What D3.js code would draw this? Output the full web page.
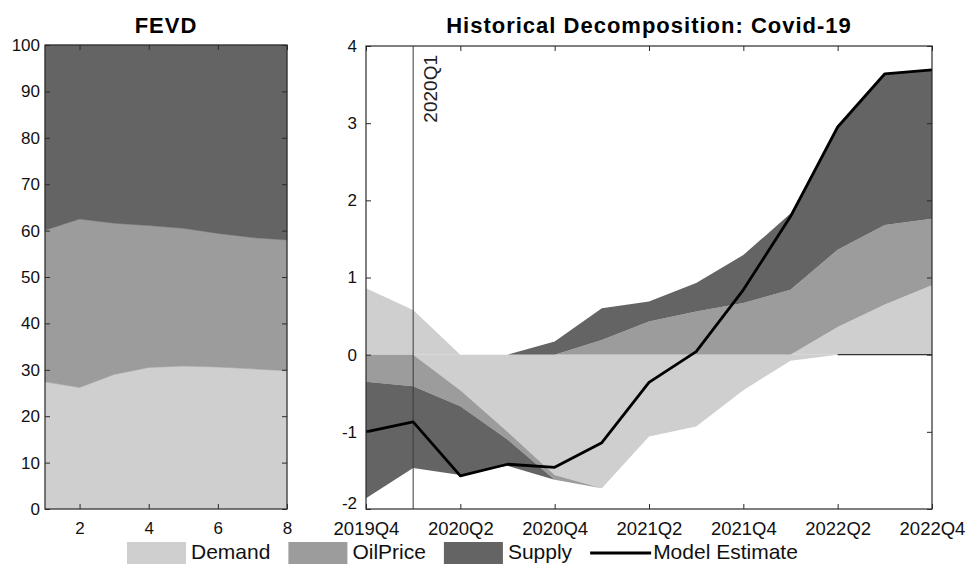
<!DOCTYPE html>
<html>
<head>
<meta charset="utf-8">
<script src="https://cdn.jsdelivr.net/npm/d3@7"></script>
<style>
  body { margin: 0; background: #fff; }
  svg { display: block; font-family: Arial, 'Liberation Sans', Helvetica, sans-serif; }
</style>
</head>
<body>
<svg id="chart" width="968" height="564"></svg>
<script>
// FEVD (left panel), share in %
const fevdHorizon = [1, 2, 3, 4, 5, 6, 7, 8];
const fevdDemand = [27.4, 26.2, 29.0, 30.5, 30.8, 30.6, 30.2, 29.8];
const fevdOilPrice = [32.7, 36.3, 32.6, 30.6, 29.7, 28.8, 28.3, 28.2];
const fevdSupply = [39.9, 37.5, 38.4, 38.9, 39.5, 40.6, 41.5, 42.0];

// historical decomposition (right panel)
const quarters = ['2019Q4', '2020Q1', '2020Q2', '2020Q3', '2020Q4', '2021Q1', '2021Q2',
  '2021Q3', '2021Q4', '2022Q1', '2022Q2', '2022Q3', '2022Q4'];
const hdDemand = [0.86, 0.58, -0.46, -1.00, -1.56, -1.73, -1.06, -0.93, -0.46, -0.08, 0.36, 0.65, 0.90];
const hdOilPrice = [-0.35, -0.41, -0.21, -0.10, -0.06, 0.19, 0.43, 0.56, 0.67, 0.84, 1.00, 1.03, 0.86];
const hdSupply = [-1.51, -1.06, -0.89, -0.34, 0.17, 0.41, 0.26, 0.37, 0.62, 0.99, 1.59, 1.97, 1.92];
const modelEstimate = [-1.00, -0.87, -1.57, -1.42, -1.46, -1.14, -0.36, 0.04, 0.84, 1.79, 2.95, 3.64, 3.69];
const eventQuarter = '2020Q1';

const seriesNames = ['Demand', 'OilPrice', 'Supply'];
const colors = { Demand: '#cfcfcf', OilPrice: '#9c9c9c', Supply: '#646464' };
const axisColor = '#2b2b2b';
const plainNum = d => String(d);

const svg = d3.select('#chart');

// ---------- left panel: FEVD ----------
const xL = d3.scaleLinear().domain([1, 8]).range([45, 287]);
const yL = d3.scaleLinear().domain([0, 100]).range([509, 45]);

const fevdRows = fevdHorizon.map((h, i) => ({
  h: h, Demand: fevdDemand[i], OilPrice: fevdOilPrice[i], Supply: fevdSupply[i]
}));
const fevdStack = d3.stack().keys(seriesNames)(fevdRows);

const areaL = d3.area()
  .x(d => xL(d.data.h))
  .y0(d => yL(d[0]))
  .y1(d => yL(Math.min(d[1], 100)));

const left = svg.append('g').attr('class', 'fevd');
left.selectAll('path.layer')
  .data(fevdStack)
  .enter()
  .append('path')
  .attr('class', 'layer')
  .attr('fill', d => colors[d.key])
  .attr('stroke', d => colors[d.key])
  .attr('stroke-width', 0.5)
  .attr('d', areaL);

function styleAxis(g, size) {
  g.select('.domain').remove();
  g.selectAll('line').attr('stroke', axisColor).attr('stroke-width', 1);
  g.selectAll('text').attr('fill', '#111').style('font-size', size + 'px');
}

left.append('g')
  .attr('transform', `translate(${xL.range()[0]},0)`)
  .call(d3.axisLeft(yL).tickValues(d3.range(0, 101, 10)).tickFormat(plainNum)
    .tickSizeInner(-5).tickSizeOuter(0).tickPadding(5))
  .call(g => styleAxis(g, 17));
left.append('g')
  .attr('transform', `translate(${xL.range()[1]},0)`)
  .call(d3.axisRight(yL).tickValues(d3.range(0, 101, 10)).tickSizeInner(-5).tickSizeOuter(0).tickFormat(''))
  .call(g => styleAxis(g, 17));
left.append('g')
  .attr('transform', `translate(0,${yL.range()[0]})`)
  .call(d3.axisBottom(xL).tickValues([2, 4, 6, 8]).tickFormat(plainNum)
    .tickSizeInner(-5).tickSizeOuter(0).tickPadding(13))
  .call(g => styleAxis(g, 17));
left.append('g')
  .attr('transform', `translate(0,${yL.range()[1]})`)
  .call(d3.axisTop(xL).tickValues([2, 4, 6, 8]).tickSizeInner(-5).tickSizeOuter(0).tickFormat(''))
  .call(g => styleAxis(g, 17));

left.append('rect')
  .attr('x', xL.range()[0]).attr('y', yL.range()[1])
  .attr('width', xL.range()[1] - xL.range()[0])
  .attr('height', yL.range()[0] - yL.range()[1])
  .attr('fill', 'none').attr('stroke', axisColor).attr('stroke-width', 1.2);

left.append('text')
  .attr('x', (xL.range()[0] + xL.range()[1]) / 2)
  .attr('y', 33)
  .attr('text-anchor', 'middle')
  .style('font-size', '22px').style('font-weight', 'bold').style('letter-spacing', '1px')
  .text('FEVD');

// ---------- right panel: historical decomposition ----------
const xR = d3.scaleLinear().domain([0, quarters.length - 1]).range([366, 932]);
const yR = d3.scaleLinear().domain([-2, 4]).range([509, 46]);

const hdRows = quarters.map((q, i) => ({
  i: i, Demand: hdDemand[i], OilPrice: hdOilPrice[i], Supply: hdSupply[i]
}));
// positives and negatives stacked separately from zero
const posStack = d3.stack().keys(seriesNames).value((d, k) => Math.max(d[k], 0))(hdRows);
const negStack = d3.stack().keys(seriesNames).value((d, k) => Math.min(d[k], 0))(hdRows);

const areaR = d3.area()
  .x(d => xR(d.data.i))
  .y0(d => yR(d[0]))
  .y1(d => yR(d[1]));

const right = svg.append('g').attr('class', 'hd');
right.selectAll('path.pos')
  .data(posStack)
  .enter()
  .append('path')
  .attr('class', 'pos')
  .attr('fill', d => colors[d.key])
  .attr('d', areaR);
right.selectAll('path.neg')
  .data(negStack)
  .enter()
  .append('path')
  .attr('class', 'neg')
  .attr('fill', d => colors[d.key])
  .attr('d', areaR);

// baseline of the negative areas where nothing is below zero
const negTotal = hdRows.map(r => d3.sum(seriesNames, k => Math.min(r[k], 0)));
right.append('path')
  .datum(hdRows)
  .attr('fill', 'none')
  .attr('stroke', '#333')
  .attr('stroke-width', 1.2)
  .attr('d', d3.line()
    .defined(d => negTotal[d.i] === 0 && (negTotal[d.i - 1] === 0 || negTotal[d.i + 1] === 0))
    .x(d => xR(d.i))
    .y(() => yR(0)));

// event marker
const ex = xR(quarters.indexOf(eventQuarter));
right.append('line')
  .attr('x1', ex).attr('x2', ex)
  .attr('y1', yR.range()[1]).attr('y2', yR.range()[0])
  .attr('stroke', '#3a3a3a').attr('stroke-width', 1);
right.append('text')
  .attr('transform', `translate(${ex + 24},55) rotate(-90)`)
  .attr('text-anchor', 'end')
  .style('font-size', '19px')
  .attr('fill', '#222')
  .text(eventQuarter);

// model estimate
right.append('path')
  .datum(modelEstimate)
  .attr('fill', 'none')
  .attr('stroke', '#000')
  .attr('stroke-width', 2.8)
  .attr('stroke-linejoin', 'round')
  .attr('d', d3.line().x((d, i) => xR(i)).y(d => yR(d)));

const xTickIdx = d3.range(0, quarters.length, 2);
right.append('g')
  .attr('transform', `translate(${xR.range()[0]},0)`)
  .call(d3.axisLeft(yR).tickValues(d3.range(-2, 5, 1)).tickFormat(plainNum)
    .tickSizeInner(-5).tickSizeOuter(0).tickPadding(9))
  .call(g => styleAxis(g, 17))
  .call(g => g.selectAll('.tick text').filter(d => d === -2).attr('dy', '-0.05em'));
right.append('g')
  .attr('transform', `translate(${xR.range()[1]},0)`)
  .call(d3.axisRight(yR).tickValues(d3.range(-2, 5, 1)).tickSizeInner(-5).tickSizeOuter(0).tickFormat(''))
  .call(g => styleAxis(g, 17));
right.append('g')
  .attr('transform', `translate(0,${yR.range()[0]})`)
  .call(d3.axisBottom(xR).tickValues(xTickIdx).tickSizeInner(-5).tickSizeOuter(0).tickPadding(13)
    .tickFormat(i => quarters[i]))
  .call(g => styleAxis(g, 18.5));
right.append('g')
  .attr('transform', `translate(0,${yR.range()[1]})`)
  .call(d3.axisTop(xR).tickValues(xTickIdx).tickSizeInner(-5).tickSizeOuter(0).tickFormat(''))
  .call(g => styleAxis(g, 17));

right.append('rect')
  .attr('x', xR.range()[0]).attr('y', yR.range()[1])
  .attr('width', xR.range()[1] - xR.range()[0])
  .attr('height', yR.range()[0] - yR.range()[1])
  .attr('fill', 'none').attr('stroke', axisColor).attr('stroke-width', 1.2);

right.append('text')
  .attr('x', (xR.range()[0] + xR.range()[1]) / 2)
  .attr('y', 33)
  .attr('text-anchor', 'middle')
  .style('font-size', '22px').style('font-weight', 'bold').style('letter-spacing', '1px')
  .text('Historical Decomposition: Covid-19');

// ---------- legend ----------
const legend = svg.append('g').attr('class', 'legend');
let lx = 127;
const legendItems = seriesNames.concat(['Model Estimate']);
legendItems.forEach(name => {
  const isArea = Boolean(colors[name]);
  if (isArea) {
    legend.append('rect')
      .attr('x', lx).attr('y', 542)
      .attr('width', 59).attr('height', 24)
      .attr('fill', colors[name]);
  } else {
    legend.append('line')
      .attr('x1', lx).attr('x2', lx + 61)
      .attr('y1', 553).attr('y2', 553)
      .attr('stroke', '#000').attr('stroke-width', 2.8);
  }
  const t = legend.append('text')
    .attr('x', lx + (isArea ? 64 : 63))
    .attr('y', 559)
    .style('font-size', '21px')
    .attr('fill', '#111')
    .text(name);
  lx = lx + (isArea ? 64 : 63) + t.node().getComputedTextLength() + 18;
});
</script>
</body>
</html>
